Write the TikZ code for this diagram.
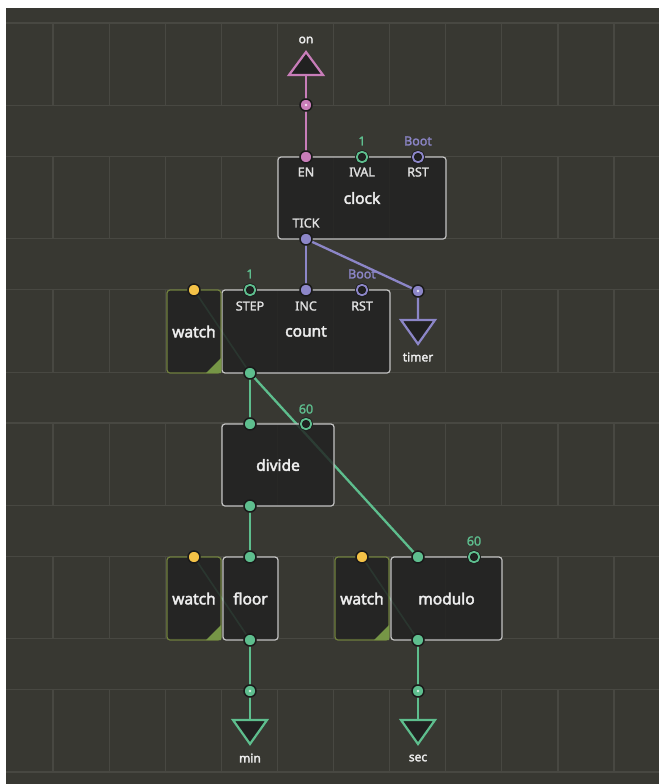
\documentclass[tikz,border=0pt]{standalone}
\usepackage{fontspec}
\setmainfont{Noto Sans}
\newfontfamily\titlefont{Noto Sans}[FakeBold=2.6]
\newfontfamily\labelfont{Noto Sans}[FakeBold=1.7]
\usepackage{xcolor}

\definecolor{canvas}{RGB}{56,56,50}
\definecolor{gridline}{RGB}{72,72,66}
\definecolor{body}{RGB}{33,33,33}
\definecolor{rim}{RGB}{26,26,26}
\definecolor{frame}{RGB}{195,195,195}
\definecolor{pinpink}{RGB}{200,125,185}
\definecolor{pingreen}{RGB}{94,190,142}
\definecolor{pinpurple}{RGB}{140,134,200}
\definecolor{pinyellow}{RGB}{244,194,71}
\definecolor{watchframe}{RGB}{112,128,62}
\definecolor{watchcorner}{RGB}{118,150,70}

\pgfdeclarelayer{grid}
\pgfdeclarelayer{wires}
\pgfsetlayers{grid,wires,main}

\tikzset{
  box/.style={draw=frame, line width=1.2pt, rounded corners=3pt, fill=body,
    fill opacity=0.82, text opacity=1, text=white!93!black, inner sep=0pt,
    font=\titlefont\fontsize{15.5}{18}\selectfont},
  watchbox/.style={box, draw=watchframe, minimum width=54pt, minimum height=83pt},
  pin/.style={circle, inner sep=0pt, minimum size=12pt, draw=rim, line width=1.5pt, fill=#1},
  openpin/.style={circle, inner sep=0pt, minimum size=10.5pt, draw=rim, line width=0.8pt,
    double=#1, double distance=1.8pt, fill=body},
  termpin/.style={pin=#1, path picture={\fill[white,opacity=0.75]
    (path picture bounding box.center) circle (1.3pt);}},
  link/.style={line width=2.3pt, draw=#1},
  term/.style={draw=#1, line width=2.2pt, fill=body, line join=miter},
  pinlabel/.style={text=white!88!black, inner sep=0pt, font=\labelfont\fontsize{12.5}{14}\selectfont},
  value/.style={text=#1, inner sep=0pt, font=\labelfont\fontsize{12.5}{14}\selectfont},
  termlabel/.style={text=white!92!black, inner sep=0pt, font=\titlefont\fontsize{12}{14}\selectfont},
}

\begin{document}
\begin{tikzpicture}[x=1pt, y=-1pt]
  \useasboundingbox (0,0) rectangle (659,784);

  % Canvas and slot grid
  \begin{pgfonlayer}{grid}
    \fill[white] (0,0) rectangle (659,784);
    \fill[canvas] (6,8) rectangle (659,784);
    \foreach \r in {0,...,5} {
      \pgfmathsetmacro\rowtop{23+133.3*\r}
      \draw[gridline, line width=1.2pt] (6,\rowtop) -- (659,\rowtop);
      \draw[gridline, line width=1.2pt] (6,\rowtop+82.5) -- (659,\rowtop+82.5);
      \foreach \c in {0,...,10}
        \draw[gridline, line width=1.2pt] (53+56.1*\c,\rowtop) -- ++(0,82.5);
    }
  \end{pgfonlayer}

  % Node bodies
  \node[box, minimum width=168pt, minimum height=82pt] (clock) at (362,198) {clock};
  \node[box, minimum width=168pt, minimum height=83pt] (count) at (306,331.5) {count};
  \node[box, minimum width=112pt, minimum height=82pt] (divide) at (278,465) {divide};
  \node[box, minimum width=55pt, minimum height=83pt] (floor) at (250.5,598.5) {floor};
  \node[box, minimum width=111pt, minimum height=83pt] (modulo) at (446.5,598.5) {modulo};
  \node[watchbox] (watchA) at (194,331.5) {watch};
  \node[watchbox] (watchB) at (194,598.5) {watch};
  \node[watchbox] (watchC) at (362,598.5) {watch};
  \foreach \w in {watchA,watchB,watchC}
    \fill[watchcorner] ([shift={(-0.6,-0.6)}]\w.south east) -- ++(-15,0) -- ++(15,-15) -- cycle;

  % Terminals
  \coordinate (onbase) at (306,75);
  \draw[term=pinpink] (289,75) -- (323,75) -- (306,52) -- cycle;
  \node[termlabel] (onlabel) at (306,40) {on};
  \coordinate (timerbase) at (418,320);
  \draw[term=pinpurple] (401,320) -- (435,320) -- (418,344) -- cycle;
  \node[termlabel] (timerlabel) at (418,357) {timer};
  \coordinate (minbase) at (250,720);
  \draw[term=pingreen] (233,720) -- (267,720) -- (250,744) -- cycle;
  \node[termlabel] (minlabel) at (250,758) {min};
  \coordinate (secbase) at (418,720);
  \draw[term=pingreen] (401,720) -- (435,720) -- (418,744) -- cycle;
  \node[termlabel] (seclabel) at (418,758) {sec};

  % Pins
  \node[termpin=pinpink] (onpin) at (306,105) {};
  \node[termpin=pinpurple] (timerpin) at (418,291) {};
  \node[termpin=pingreen] (minpin) at (250,691) {};
  \node[termpin=pingreen] (secpin) at (418,691) {};

  \node[pin=pinpink] (clocken) at (306,157) {};
  \node[openpin=pingreen] (clockival) at (362,157) {};
  \node[openpin=pinpurple] (clockrst) at (418,157) {};
  \node[pin=pinpurple] (clocktick) at (306,239) {};

  \node[openpin=pingreen] (countstep) at (250,290) {};
  \node[pin=pinpurple] (countinc) at (306,290) {};
  \node[openpin=pinpurple] (countrst) at (362,290) {};
  \node[pin=pingreen] (countout) at (250,373) {};

  \node[pin=pingreen] (dividenum) at (250,424) {};
  \node[openpin=pingreen] (divideby) at (306,424) {};
  \node[pin=pingreen] (divideout) at (250,506) {};

  \node[pin=pingreen] (floorin) at (250,557) {};
  \node[pin=pingreen] (floorout) at (250,640) {};

  \node[pin=pingreen] (modulonum) at (418,557) {};
  \node[openpin=pingreen] (moduloby) at (474,557) {};
  \node[pin=pingreen] (moduloout) at (418,640) {};

  \node[pin=pinyellow] (watchApin) at (194,290) {};
  \node[pin=pinyellow] (watchBpin) at (194,557) {};
  \node[pin=pinyellow] (watchCpin) at (362,557) {};

  % Pin labels and values
  \node[pinlabel] (enlabel) at (306,172) {EN};
  \node[pinlabel] (ivallabel) at (362,172) {IVAL};
  \node[pinlabel] (rstlabelA) at (418,172) {RST};
  \node[pinlabel] (ticklabel) at (306,223) {TICK};
  \node[value=pingreen] (ivalvalue) at (362,141) {1};
  \node[value=pinpurple] (rstvalueA) at (418,141) {Boot};

  \node[pinlabel] (steplabel) at (250,306) {STEP};
  \node[pinlabel] (inclabel) at (306,306) {INC};
  \node[pinlabel] (rstlabelB) at (362,306) {RST};
  \node[value=pingreen] (stepvalue) at (250,274) {1};
  \node[value=pinpurple] (rstvalueB) at (362,274) {Boot};

  \node[value=pingreen] (dividevalue) at (306,409) {60};
  \node[value=pingreen] (modulovalue) at (474,541) {60};

  % Links
  \begin{pgfonlayer}{wires}
    \draw[link=pinpink] (onbase) -- (onpin.center) -- (clocken.center);
    \draw[link=pinpurple] (clocktick.center) -- (countinc.center);
    \draw[link=pinpurple] (clocktick.center) -- (timerpin.center) -- (timerbase);
    \draw[link=pingreen] (countout.center) -- (dividenum.center);
    \draw[link=pingreen] (countout.center) -- (modulonum.center);
    \draw[link=pingreen] (divideout.center) -- (floorin.center);
    \draw[link=pingreen] (floorout.center) -- (minpin.center) -- (minbase);
    \draw[link=pingreen] (moduloout.center) -- (secpin.center) -- (secbase);
    \draw[link=pingreen!70!canvas, line width=1.6pt] (watchApin.center) -- (countout.center);
    \draw[link=pingreen!70!canvas, line width=1.6pt] (watchBpin.center) -- (floorout.center);
    \draw[link=pingreen!70!canvas, line width=1.6pt] (watchCpin.center) -- (moduloout.center);
  \end{pgfonlayer}
\end{tikzpicture}
\end{document}
